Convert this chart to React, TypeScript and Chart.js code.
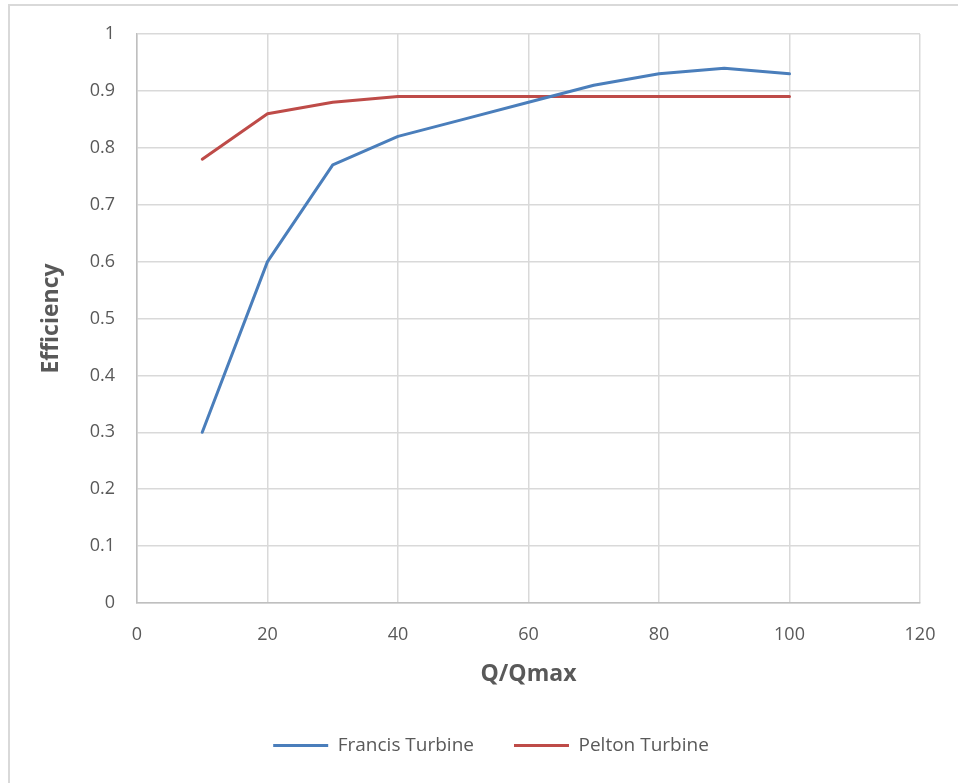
import { useEffect, useRef } from "react";
import { Chart, registerables } from "chart.js";

Chart.register(...registerables);

// ---- data ----
const flowPercent = [10, 20, 30, 40, 50, 60, 70, 80, 90, 100];
const francisEfficiency = [0.3, 0.6, 0.77, 0.82, 0.85, 0.88, 0.91, 0.93, 0.94, 0.93];
const peltonEfficiency = [0.78, 0.86, 0.88, 0.89, 0.89, 0.89, 0.89, 0.89, 0.89, 0.89];
const seriesNames = ["Francis Turbine", "Pelton Turbine"];
const seriesColors = ["#4A7EBB", "#BE4B48"];
const xAxisTitle = "Q/Qmax";
const yAxisTitle = "Efficiency";
const xRange = { min: 0, max: 120, step: 20 };
const yRange = { min: 0, max: 1, step: 0.1 };

const TEXT = "#595959";
const GRID = "#d9d9d9";
const AXIS = "#bfbfbf";
const FONT = "'Open Sans', 'Noto Sans', sans-serif";

export default function App() {
  const canvasRef = useRef<HTMLCanvasElement | null>(null);

  useEffect(() => {
    const canvas = canvasRef.current;
    if (!canvas) return;
    const toPoints = (ys: number[]) => flowPercent.map((x, i) => ({ x, y: ys[i] }));
    const chart = new Chart(canvas, {
      type: "line",
      data: {
        datasets: [
          {
            label: seriesNames[0],
            data: toPoints(francisEfficiency),
            borderColor: seriesColors[0],
            backgroundColor: seriesColors[0],
            borderWidth: 3,
            pointRadius: 0,
            pointHoverRadius: 0,
            tension: 0,
            fill: false,
            borderCapStyle: "round",
            borderJoinStyle: "round",
          },
          {
            label: seriesNames[1],
            data: toPoints(peltonEfficiency),
            borderColor: seriesColors[1],
            backgroundColor: seriesColors[1],
            borderWidth: 3,
            pointRadius: 0,
            pointHoverRadius: 0,
            tension: 0,
            fill: false,
            borderCapStyle: "round",
            borderJoinStyle: "round",
          },
        ],
      },
      options: {
        responsive: false,
        animation: false,
        events: [],
        layout: { padding: { left: 62, right: 38, top: 34, bottom: 18 } },
        plugins: {
          tooltip: { enabled: false },
          legend: {
            position: "bottom",
            labels: {
              usePointStyle: true,
              pointStyle: "line",
              pointStyleWidth: 55,
              padding: 40,
              color: TEXT,
              font: { family: FONT, size: 19 },
            },
          },
        },
        scales: {
          x: {
            type: "linear",
            min: xRange.min,
            max: xRange.max,
            afterFit: (s: any) => {
              s.height = 93;
            },
            ticks: {
              stepSize: xRange.step,
              padding: 21,
              color: TEXT,
              font: { family: FONT, size: 18 },
            },
            grid: { color: GRID, lineWidth: 1.5, drawTicks: false },
            border: { color: AXIS, width: 1.5 },
            title: {
              display: true,
              text: xAxisTitle,
              color: TEXT,
              font: { family: FONT, size: 23, weight: "bold" },
              padding: { top: 0, bottom: 8 },
            },
          },
          y: {
            type: "linear",
            min: yRange.min,
            max: yRange.max,
            afterFit: (s: any) => {
              s.width = 75;
            },
            ticks: {
              stepSize: yRange.step,
              padding: 22,
              color: TEXT,
              font: { family: FONT, size: 18 },
              callback: (v: any) => String(Number(Number(v).toFixed(1))),
            },
            grid: { color: GRID, lineWidth: 1.5, drawTicks: false },
            border: { color: AXIS, width: 1.5 },
            title: {
              display: true,
              text: yAxisTitle,
              color: TEXT,
              font: { family: FONT, size: 23, weight: "bold" },
              padding: { top: -24, bottom: 0 },
            },
          },
        },
      },
    } as any);
    return () => chart.destroy();
  }, []);

  return (
    <div
      style={{
        position: "fixed",
        left: 0,
        top: 0,
        width: 958,
        height: 783,
        overflow: "hidden",
        background: "#ffffff",
      }}
    >
      <div
        style={{
          position: "absolute",
          left: 8,
          top: 4,
          width: 1000,
          height: 900,
          border: "2px solid #d9d9d9",
          boxSizing: "border-box",
        }}
      />
      <canvas
        ref={canvasRef}
        width={958}
        height={783}
        style={{ position: "absolute", left: 0, top: 0, width: 958, height: 783 }}
      />
    </div>
  );
}
